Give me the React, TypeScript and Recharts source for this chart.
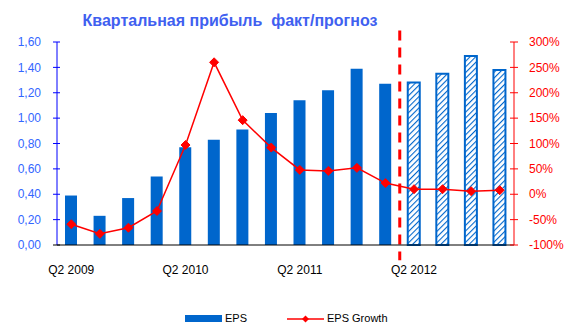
import { ComposedChart, Bar, Line, XAxis, YAxis, Cell, ReferenceLine } from 'recharts'

const QUARTERS = [
  'Q2 2009', 'Q3 2009', 'Q4 2009', 'Q1 2010',
  'Q2 2010', 'Q3 2010', 'Q4 2010', 'Q1 2011',
  'Q2 2011', 'Q3 2011', 'Q4 2011', 'Q1 2012',
  'Q2 2012', 'Q3 2012', 'Q4 2012', 'Q1 2013',
]
const EPS = [0.39, 0.23, 0.37, 0.54, 0.77, 0.83, 0.91, 1.04, 1.14, 1.22, 1.39, 1.27, 1.28, 1.35, 1.49, 1.38]
const EPS_GROWTH = [-59, -78, -66, -33, 97, 260, 146, 92, 48, 46, 52, 22, 10, 10, 6, 8]
// first forecast quarter (hatched bars from here on)
const FORECAST_FROM = 12

const EPS_TICKS = [0, 0.2, 0.4, 0.6, 0.8, 1.0, 1.2, 1.4, 1.6]
const GROWTH_TICKS = [-100, -50, 0, 50, 100, 150, 200, 250, 300]

const BLUE = '#0066CC'
const RED = '#FF0000'
const FONT = '"Liberation Sans", Arial, sans-serif'

const data = QUARTERS.map((q, i) => ({ q, i, eps: EPS[i], growth: EPS_GROWTH[i] }))
const boundaries = QUARTERS.slice(1).map((_, i) => i + 0.5)

function LeftTick(props: any) {
  const { x, y, payload } = props
  return (
    <g>
      <line x1={x - 4} x2={x + 3} y1={y} y2={y} stroke={payload.value === 0 ? '#000' : '#0000FF'} />
      <text x={x - 16} y={y} dy="0.35em" textAnchor="end" fontSize={12} fontFamily={FONT} fill="#3366FF">
        {payload.value.toFixed(2).replace('.', ',')}
      </text>
    </g>
  )
}

function RightTick(props: any) {
  const { x, y, payload } = props
  return (
    <g>
      <line x1={x - 4} x2={x + 4} y1={y} y2={y} stroke={RED} />
      <text x={x + 15} y={y} dy="0.35em" textAnchor="start" fontSize={12} fontFamily={FONT} fill={RED}>
        {payload.value}%
      </text>
    </g>
  )
}

function Diamond(props: any) {
  const { cx, cy, index } = props
  if (cx == null || cy == null) return <g key={`d-${index}`} />
  const r = 4.5
  return (
    <polygon
      key={`d-${index}`}
      points={`${cx},${cy - r} ${cx + r},${cy} ${cx},${cy + r} ${cx - r},${cy}`}
      fill={RED}
      stroke={RED}
    />
  )
}

export default function App() {
  return (
    <div style={{ position: 'absolute', left: 0, top: 0, width: 585, height: 332, background: '#fff', fontFamily: FONT }}>
      <svg width={0} height={0} style={{ position: 'absolute' }}>
        <defs>
          <pattern id="hatch" patternUnits="userSpaceOnUse" width={4} height={4} patternTransform="rotate(45)">
            <rect width={4} height={4} fill="#fff" />
            <line x1={0} y1={0} x2={0} y2={4} stroke={BLUE} strokeWidth={2.2} />
          </pattern>
        </defs>
      </svg>

      <div
        style={{
          position: 'absolute', left: 0, top: 11, width: 460, textAlign: 'center',
          fontSize: 16, fontWeight: 'bold', color: '#4060F0', lineHeight: '19px',
        }}
      >
        Квартальная прибыль&nbsp; факт/прогноз
      </div>

      <ComposedChart width={585} height={332} data={data} margin={{ top: 42, right: 0, left: 0, bottom: 57 }}>
        <XAxis
          xAxisId="n"
          dataKey="i"
          type="number"
          domain={[-0.5, QUARTERS.length - 0.5]}
          allowDataOverflow
          ticks={boundaries}
          interval={0}
          mirror
          height={0}
          tickSize={4}
          axisLine={false}
          tickLine={{ stroke: '#000' }}
          tick={() => <g />}
        />
        <XAxis
          dataKey="q"
          interval={3}
          height={30}
          tickLine={false}
          tickSize={0}
          tickMargin={20}
          axisLine={{ stroke: '#000' }}
          tick={{ fontSize: 12, fill: '#000', fontFamily: FONT }}
        />
        <YAxis
          yAxisId="left"
          width={57}
          domain={[0, 1.6]}
          ticks={EPS_TICKS}
          interval={0}
          tickSize={0}
          tickMargin={0}
          tickLine={false}
          axisLine={{ stroke: '#0000FF' }}
          tick={LeftTick}
        />
        <YAxis
          yAxisId="right"
          orientation="right"
          width={71}
          domain={[-100, 300]}
          ticks={GROWTH_TICKS}
          interval={0}
          tickSize={0}
          tickMargin={0}
          tickLine={false}
          axisLine={{ stroke: RED }}
          tick={RightTick}
        />
        <Bar yAxisId="left" dataKey="eps" barSize={12} fill={BLUE} isAnimationActive={false}>
          {data.map((d) =>
            d.i >= FORECAST_FROM ? (
              <Cell key={d.q} fill="url(#hatch)" stroke={BLUE} strokeWidth={2} />
            ) : (
              <Cell key={d.q} fill={BLUE} />
            )
          )}
        </Bar>
        <Line
          yAxisId="right"
          dataKey="growth"
          type="linear"
          stroke={RED}
          strokeWidth={1.5}
          dot={Diamond}
          activeDot={false}
          isAnimationActive={false}
        />
        <ReferenceLine
          xAxisId="n"
          yAxisId="left"
          ifOverflow="visible"
          segment={[
            { x: FORECAST_FROM - 0.5, y: 1.69 },
            { x: FORECAST_FROM - 0.5, y: -0.12 },
          ]}
          stroke={RED}
          strokeWidth={3}
          strokeDasharray="10 7"
        />
      </ComposedChart>

      <div
        style={{
          position: 'absolute', left: 185, top: 312, display: 'flex', alignItems: 'center',
          fontSize: 11, color: '#000', lineHeight: '13px',
        }}
      >
        <span style={{ display: 'inline-block', width: 37, height: 7, background: BLUE, marginRight: 3 }} />
        <span style={{ width: 62 }}>EPS</span>
        <svg width={37} height={10} style={{ marginRight: 3 }}>
          <line x1={0} x2={37} y1={5} y2={5} stroke={RED} strokeWidth={1.5} />
          <polygon points="18.5,1.5 22,5 18.5,8.5 15,5" fill={RED} />
        </svg>
        <span>EPS Growth</span>
      </div>
    </div>
  )
}
